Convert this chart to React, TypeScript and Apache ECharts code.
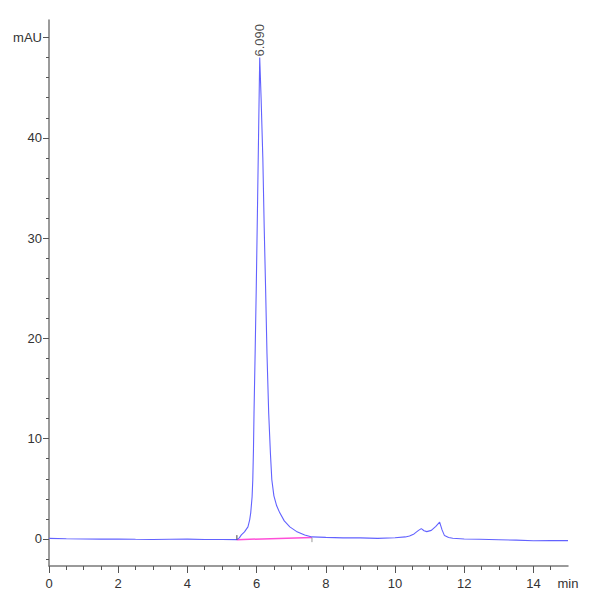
import { useEffect, useRef } from 'react';
import * as echarts from 'echarts';

// retention time (min) / absorbance (mAU)
const traceTimes = [
  0, 0.5, 1, 1.5, 2, 2.5, 3, 3.5, 4, 4.5, 5, 5.43,
  5.5, 5.56, 5.65, 5.75, 5.8, 5.83, 5.87, 5.89, 5.91, 5.925, 5.96, 5.99, 6.03, 6.06, 6.09,
  6.13, 6.18, 6.22, 6.26, 6.3, 6.35, 6.4, 6.44, 6.5, 6.58, 6.67, 6.8, 6.96, 7.15, 7.39, 7.6,
  8, 8.5, 9, 9.5, 10, 10.3, 10.42, 10.55, 10.68, 10.76, 10.84, 10.92, 11.05, 11.18, 11.29,
  11.36, 11.43, 11.55, 11.67, 12, 12.44, 13, 13.5, 14, 14.5, 15,
];
const traceValues = [
  0.05, 0.02, 0, -0.02, 0, -0.03, -0.05, -0.03, -0.02, -0.05, -0.05, -0.07,
  0.1, 0.4, 0.7, 1.2, 1.9, 2.6, 4.2, 5.9, 9, 12.5, 19, 25, 34, 41, 48.0,
  44, 38, 31, 25, 18.5, 12.5, 8.5, 5.9, 4.3, 3.3, 2.6, 1.8, 1.2, 0.75, 0.4, 0.2,
  0.15, 0.1, 0.1, 0.05, 0.12, 0.2, 0.3, 0.5, 0.85, 1.03, 0.82, 0.73, 0.85, 1.25, 1.67,
  0.9, 0.33, 0.15, 0.07, 0, -0.03, -0.08, -0.12, -0.18, -0.15, -0.17,
];

// integration baseline of the main peak
const baselineStart = [5.43, -0.07];
const baselineEnd = [7.6, 0.13];

const peakTimes = [6.09];
const peakHeights = [48.0];
const peakLabels = ['6.090'];

const xMajorTicks = [0, 2, 4, 6, 8, 10, 12, 14];
const xLabelValues = [0, 2, 4, 6, 8, 10, 12, 14, 15];
const xMinorTicks = [0.5, 1, 1.5, 2.5, 3, 3.5, 4.5, 5, 5.5, 6.5, 7, 7.5, 8.5, 9, 9.5, 10.5, 11, 11.5, 12.5, 13, 13.5, 14.5];
const yMajorTicks = [0, 10, 20, 30, 40, 50];
const yMinorTicks = [-2, 2, 4, 6, 8, 12, 14, 16, 18, 22, 24, 26, 28, 32, 34, 36, 38, 42, 44, 46, 48];

const FONT = "'Liberation Sans Narrow', 'Liberation Sans', Arial, sans-serif";

const App = () => {
  const chartRef = useRef<HTMLDivElement>(null);

  useEffect(() => {
    if (!chartRef.current) return;
    const chart = echarts.init(chartRef.current, null, { renderer: 'svg' });

    const axisColor = '#7a7a7a';
    const tickColor = '#555';
    const labelStyle = { color: '#333', fontSize: 13, fontFamily: FONT };
    const rect = { left: 49, right: 32, top: 20, bottom: 34 };

    chart.setOption({
      animation: false,
      backgroundColor: '#fff',
      // second grid, same rectangle, only carries the minor ticks
      grid: [rect, rect],
      xAxis: [
        {
          type: 'value',
          gridIndex: 0,
          min: 0,
          max: 15,
          axisLine: { show: true, onZero: false, lineStyle: { color: axisColor, width: 1.5 } },
          axisTick: { show: true, length: 7, customValues: xMajorTicks, lineStyle: { color: tickColor } },
          axisLabel: {
            ...labelStyle,
            margin: 11,
            customValues: xLabelValues,
            formatter: (v: number) => (v === 15 ? 'min' : String(v)),
          },
          splitLine: { show: false },
        },
        {
          type: 'value',
          gridIndex: 1,
          min: 0,
          max: 15,
          position: 'bottom',
          axisLine: { show: false, onZero: false },
          axisTick: { show: true, length: 4, customValues: xMinorTicks, lineStyle: { color: tickColor } },
          axisLabel: { show: false },
          splitLine: { show: false },
        },
      ],
      yAxis: [
        {
          type: 'value',
          gridIndex: 0,
          min: -2.7,
          max: 51.75,
          axisLine: { show: true, onZero: false, lineStyle: { color: axisColor, width: 1.5 } },
          axisTick: { show: true, length: 6, customValues: yMajorTicks, lineStyle: { color: tickColor } },
          axisLabel: {
            ...labelStyle,
            margin: 7,
            customValues: yMajorTicks,
            formatter: (v: number) => (v === 50 ? 'mAU' : String(v)),
          },
          splitLine: { show: false },
        },
        {
          type: 'value',
          gridIndex: 1,
          min: -2.7,
          max: 51.75,
          position: 'left',
          axisLine: { show: false, onZero: false },
          axisTick: { show: true, length: 3, customValues: yMinorTicks, lineStyle: { color: tickColor } },
          axisLabel: { show: false },
          splitLine: { show: false },
        },
      ],
      series: [
        {
          type: 'line',
          data: [baselineStart, baselineEnd],
          symbol: 'none',
          lineStyle: { color: '#ff4fd8', width: 1.5 },
          z: 3,
        },
        {
          type: 'line',
          data: traceTimes.map((t, i) => [t, traceValues[i]]),
          symbol: 'none',
          lineStyle: { color: '#6262ff', width: 1.1 },
          z: 4,
        },
        {
          type: 'line',
          data: [baselineStart, [baselineStart[0], baselineStart[1] + 0.45]],
          symbol: 'none',
          lineStyle: { color: '#444', width: 1 },
          z: 5,
        },
        {
          type: 'line',
          data: [baselineEnd, [baselineEnd[0], baselineEnd[1] - 0.45]],
          symbol: 'none',
          lineStyle: { color: '#999', width: 1 },
          z: 5,
        },
        {
          type: 'scatter',
          data: peakTimes.map((t, i) => ({ value: [t, peakHeights[i]], name: peakLabels[i] })),
          symbolSize: 0,
          label: {
            show: true,
            position: 'top',
            distance: 1,
            rotate: 90,
            align: 'left',
            verticalAlign: 'middle',
            formatter: (p: any) => p.name,
            color: '#222',
            fontSize: 13,
            fontFamily: FONT,
          },
          z: 6,
        },
      ],
    });

    return () => {
      chart.dispose();
    };
  }, []);

  return (
    <div
      ref={chartRef}
      style={{ position: 'absolute', left: 0, top: 0, width: 600, height: 600 }}
    />
  );
};

export default App;
